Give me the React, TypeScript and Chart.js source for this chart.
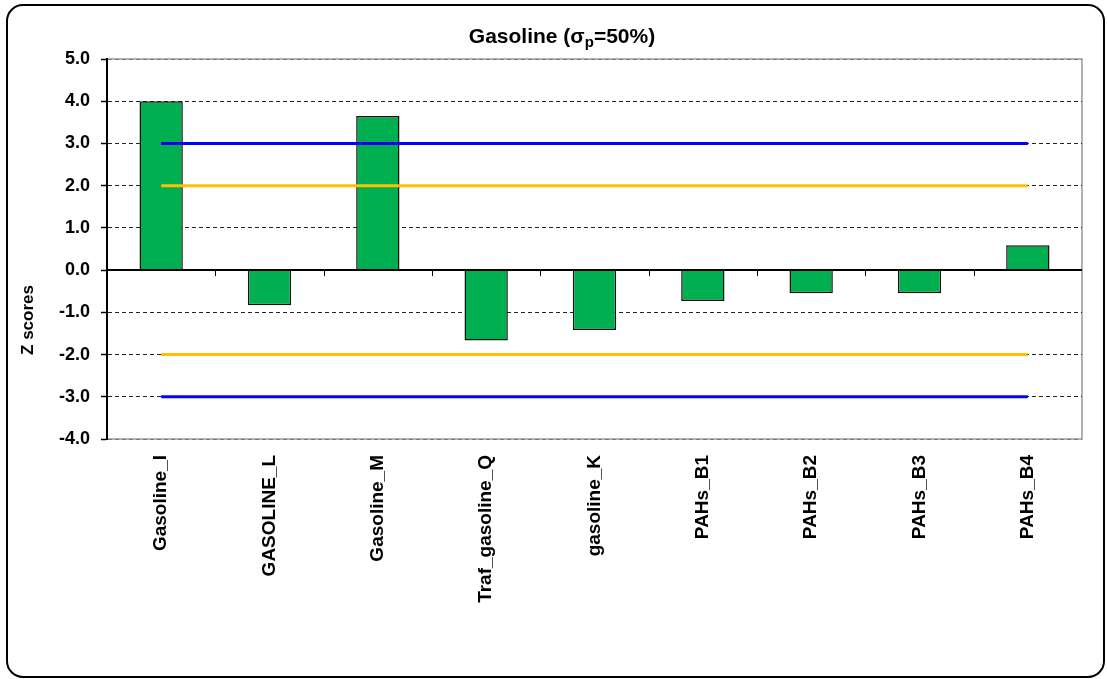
import React, { useEffect, useRef } from "react";
import { Chart, registerables } from "chart.js";

Chart.register(...registerables);

const categories = [
  "Gasoline_I",
  "GASOLINE_L",
  "Gasoline_M",
  "Traf_gasoline_Q",
  "gasoline_K",
  "PAHs_B1",
  "PAHs_B2",
  "PAHs_B3",
  "PAHs_B4",
];
const zScores = [4.0, -0.83, 3.65, -1.67, -1.42, -0.73, -0.55, -0.55, 0.59];
const actionUpper = [3, 3, 3, 3, 3, 3, 3, 3, 3];
const actionLower = [-3, -3, -3, -3, -3, -3, -3, -3, -3];
const warningUpper = [2, 2, 2, 2, 2, 2, 2, 2, 2];
const warningLower = [-2, -2, -2, -2, -2, -2, -2, -2, -2];
const yMin = -4;
const yMax = 5;
const yTitle = "Z scores";

const FONT = "'Liberation Sans', Arial, sans-serif";

const decorPlugin = {
  id: "decor",
  beforeDraw(chart: any) {
    const { ctx, chartArea } = chart;
    ctx.save();
    ctx.fillStyle = "#ffffff";
    ctx.fillRect(0, 0, chart.width, chart.height);
    // outer rounded frame
    ctx.strokeStyle = "#000000";
    ctx.lineWidth = 2;
    ctx.beginPath();
    if (ctx.roundRect) {
      ctx.roundRect(7, 5, 1097, 672, 16);
    } else {
      ctx.rect(7, 5, 1097, 672);
    }
    ctx.stroke();
    // plot area border (gray)
    ctx.strokeStyle = "#9a9a9a";
    ctx.lineWidth = 1.5;
    ctx.strokeRect(chartArea.left, chartArea.top, chartArea.right - chartArea.left, chartArea.bottom - chartArea.top);
    // title with subscript
    const main1 = "Gasoline (σ";
    const sub = "p";
    const main2 = "=50%)";
    ctx.fillStyle = "#000000";
    ctx.textBaseline = "alphabetic";
    ctx.font = `bold 21px ${FONT}`;
    const w1 = ctx.measureText(main1).width;
    const w3 = ctx.measureText(main2).width;
    ctx.font = `bold 15px ${FONT}`;
    const w2 = ctx.measureText(sub).width;
    const total = w1 + w2 + w3;
    let x = 562 - total / 2;
    const baseY = 43;
    ctx.textAlign = "left";
    ctx.font = `bold 21px ${FONT}`;
    ctx.fillText(main1, x, baseY);
    x += w1;
    ctx.font = `bold 15px ${FONT}`;
    ctx.fillText(sub, x, baseY + 4);
    x += w2;
    ctx.font = `bold 21px ${FONT}`;
    ctx.fillText(main2, x, baseY);
    // y axis title
    ctx.save();
    ctx.translate(28, 320);
    ctx.rotate(-Math.PI / 2);
    ctx.textAlign = "center";
    ctx.textBaseline = "middle";
    ctx.font = `bold 17px ${FONT}`;
    ctx.fillText(yTitle, 0, 0);
    ctx.restore();
    ctx.restore();
  },
  afterDatasetsDraw(chart: any) {
    const { ctx, chartArea, scales } = chart;
    const y0 = scales.y.getPixelForValue(0);
    ctx.save();
    ctx.strokeStyle = "#000000";
    ctx.lineWidth = 2;
    ctx.beginPath();
    ctx.moveTo(chartArea.left, y0);
    ctx.lineTo(chartArea.right, y0);
    ctx.stroke();
    ctx.lineWidth = 1;
    for (let i = 1; i < categories.length; i++) {
      const xb = Math.round((scales.x.getPixelForValue(i - 1) + scales.x.getPixelForValue(i)) / 2) + 0.5;
      ctx.beginPath();
      ctx.moveTo(xb, y0);
      ctx.lineTo(xb, y0 + 6);
      ctx.stroke();
    }
    ctx.restore();
  },
};

export default function App() {
  const canvasRef = useRef<HTMLCanvasElement | null>(null);

  useEffect(() => {
    const canvas = canvasRef.current;
    if (!canvas) return;
    const limitLine = (data: number[], color: string) => ({
      type: "line" as const,
      data,
      borderColor: color,
      backgroundColor: color,
      borderWidth: 3,
      pointRadius: 0,
      pointHoverRadius: 0,
      fill: false,
      tension: 0,
      order: 0,
    });
    const chart = new Chart(canvas, {
      type: "bar",
      data: {
        labels: categories,
        datasets: [
          limitLine(actionUpper, "#0000ff"),
          limitLine(actionLower, "#0000ff"),
          limitLine(warningUpper, "#ffc000"),
          limitLine(warningLower, "#ffc000"),
          {
            type: "bar" as const,
            data: zScores,
            backgroundColor: "#00b050",
            borderColor: "#111111",
            borderWidth: 1.5,
            categoryPercentage: 1,
            barPercentage: 0.4,
            order: 1,
          } as any,
        ],
      },
      options: {
        responsive: false,
        animation: false,
        layout: { padding: { top: 59, right: 25, left: 0, bottom: 0 } },
        plugins: {
          legend: { display: false },
          tooltip: { enabled: false },
          title: { display: false },
        },
        scales: {
          x: {
            grid: { display: false },
            border: { display: false },
            ticks: {
              autoSkip: false,
              maxRotation: 90,
              minRotation: 90,
              padding: 8,
              color: "#000000",
              font: { family: FONT, size: 19, weight: "bold" },
            },
            afterFit: (scale: any) => {
              scale.height = 240;
            },
          },
          y: {
            min: yMin,
            max: yMax,
            ticks: {
              stepSize: 1,
              padding: 11,
              color: "#000000",
              font: { family: FONT, size: 18, weight: "bold" },
              callback: (v: any) => Number(v).toFixed(1),
            },
            grid: {
              color: (c: any) => {
                const v = c.tick ? c.tick.value : null;
                if (v === 0) return "rgba(0,0,0,0)";
                if (v === yMax || v === yMin) return "#777777";
                return "#222222";
              },
              lineWidth: 1,
              tickLength: 6,
              tickColor: "#000000",
              tickWidth: 1.5,
              tickBorderDash: [],
            } as any,
            border: { display: true, color: "#000000", width: 2, dash: [4, 3] },
            title: { display: false },
            afterFit: (scale: any) => {
              scale.width = 107;
            },
          },
        },
      },
      plugins: [decorPlugin],
    });
    return () => chart.destroy();
  }, []);

  return (
    <div style={{ position: "absolute", left: 0, top: 0, width: 1107, height: 679, background: "#fff" }}>
      <canvas ref={canvasRef} width={1107} height={679} style={{ display: "block" }} />
    </div>
  );
}
